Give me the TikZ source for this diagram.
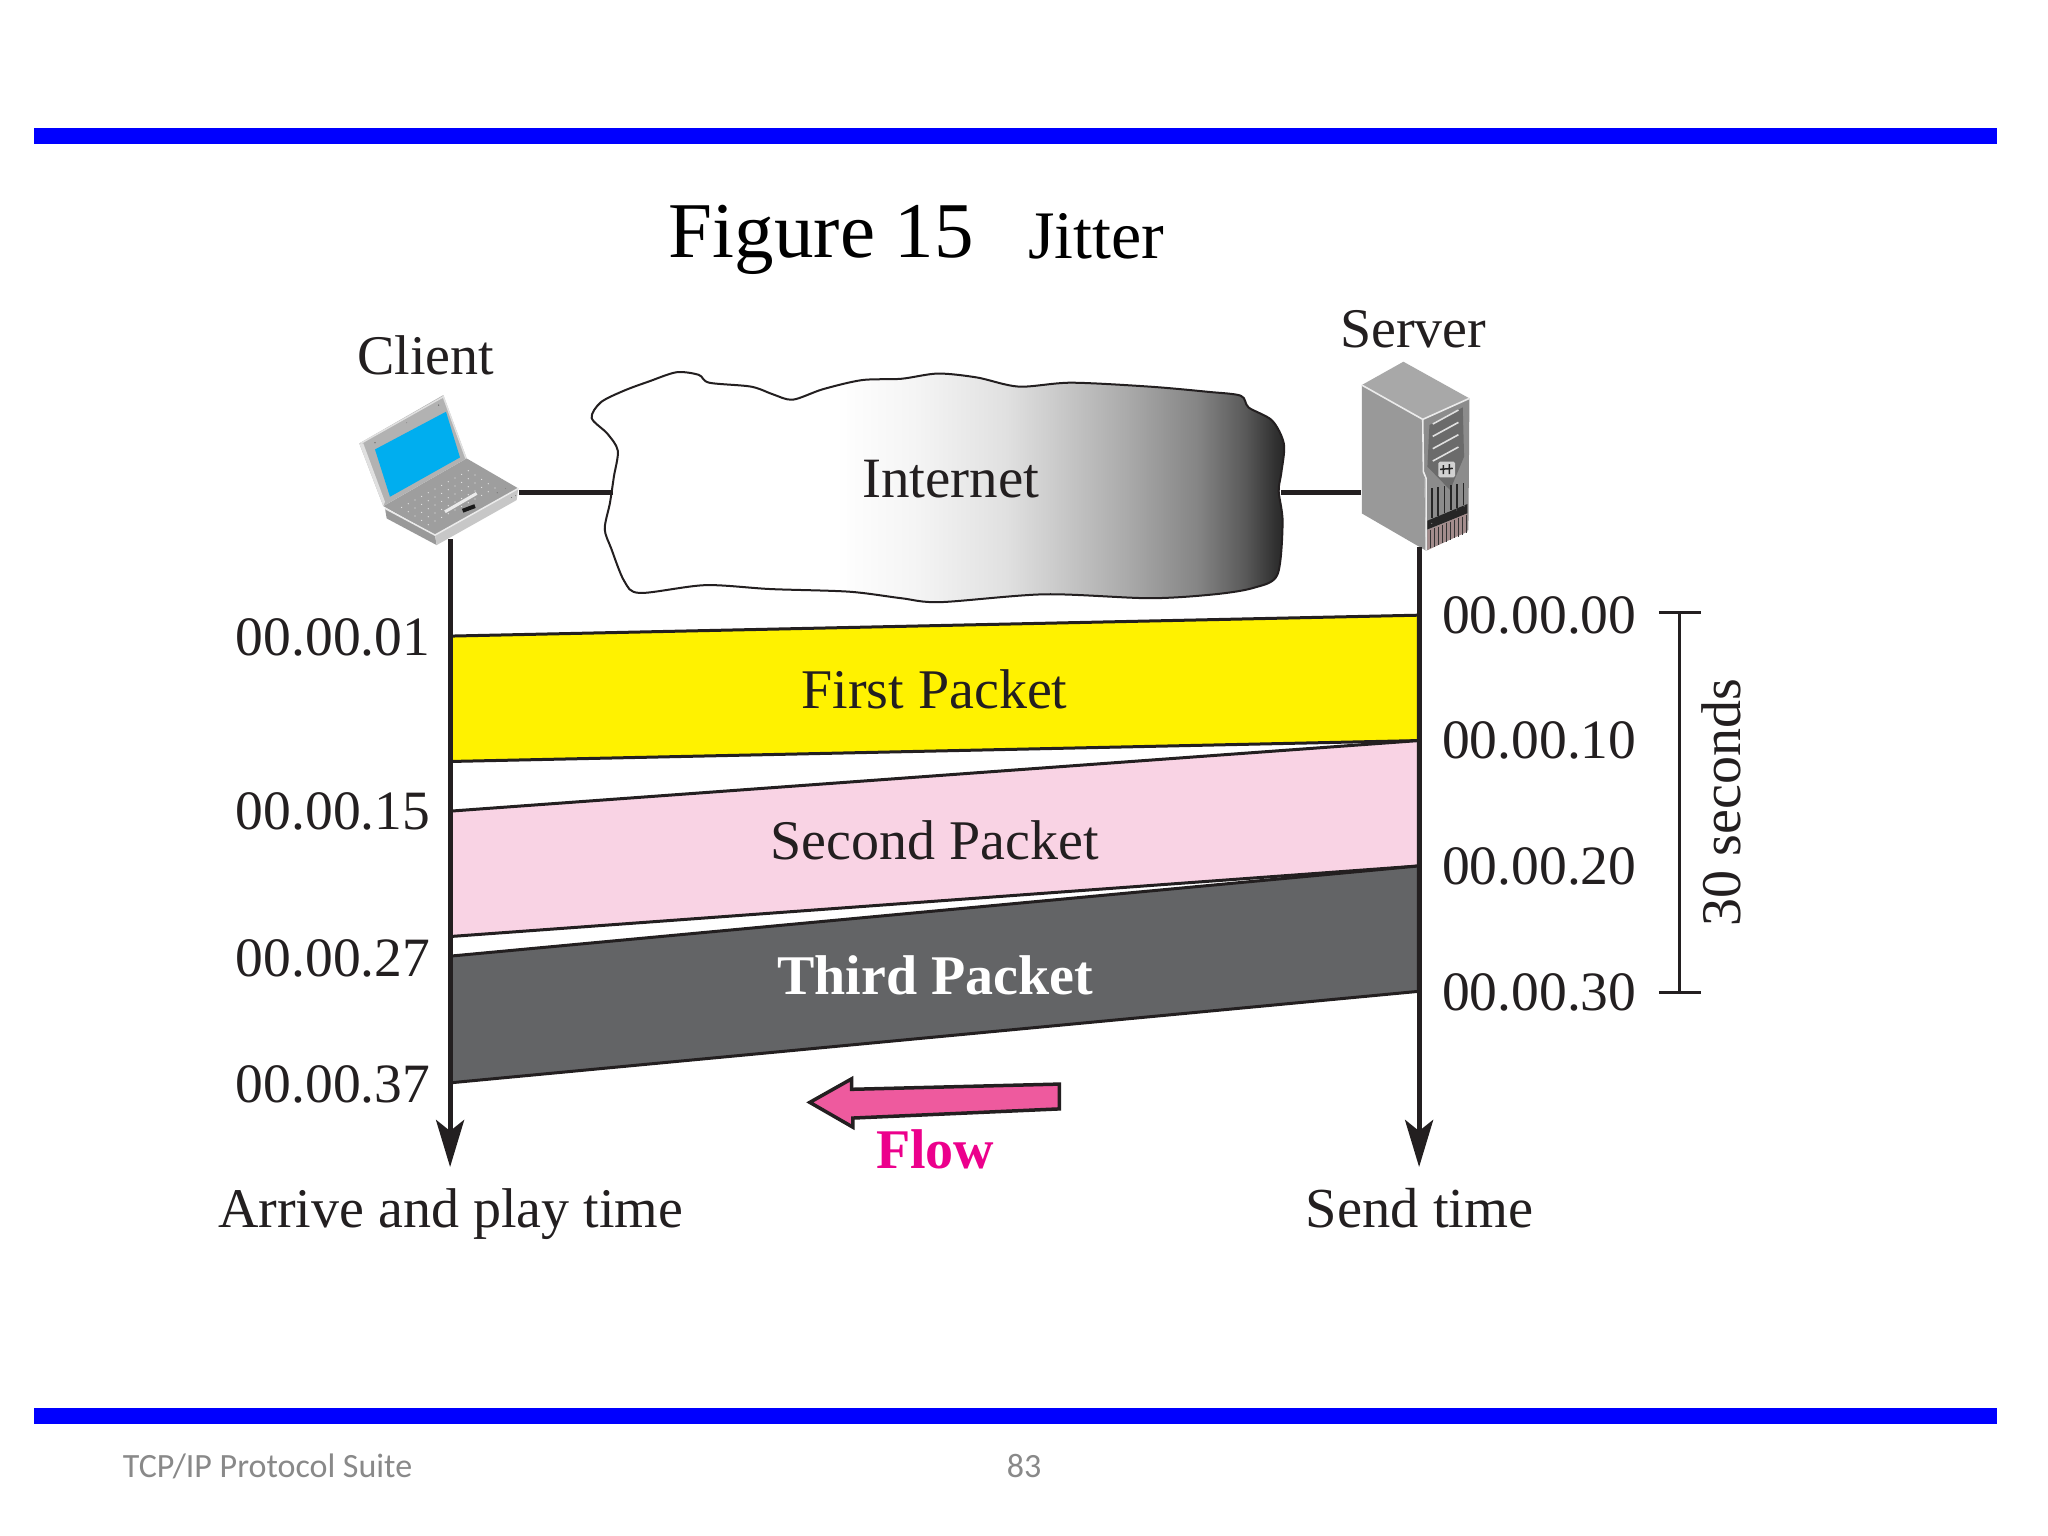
\documentclass[tikz,border=0pt]{standalone}
\usepackage{fontspec}
\setmainfont{Liberation Serif}
\newfontfamily\footfont{Carlito}
\usetikzlibrary{arrows.meta,calc}
\definecolor{ink}{HTML}{231F20}
\definecolor{barblue}{HTML}{0000FF}
\definecolor{screenblue}{HTML}{00AEEF}
\definecolor{firstcol}{HTML}{FFF200}
\definecolor{secondcol}{HTML}{F9D3E4}
\definecolor{thirdcol}{HTML}{636466}
\definecolor{flowcol}{HTML}{EE5A9E}
\definecolor{flowtext}{HTML}{EC008C}
\definecolor{footgray}{HTML}{898989}
\pgfdeclarehorizontalshading{cloudshade}{100bp}{color(0bp)=(white); color(42.6bp)=(white); color(48.3bp)=(black!4); color(54.9bp)=(black!12); color(58.3bp)=(black!20); color(63.5bp)=(black!33); color(68.7bp)=(black!48); color(72.1bp)=(black!65); color(74.3bp)=(black!81); color(75bp)=(black!85); color(100bp)=(black!85)}
\newcommand{\fs}[1]{\fontsize{#1}{#1}\selectfont}
\begin{document}
\begin{tikzpicture}[x=1.306pt,y=-1.306pt,
    txt/.style = {text=ink, font=\fs{56}, inner sep=0pt},
    stamp/.style = {text=ink, font=\fs{55.5}, inner sep=0pt},
    bar/.style = {fill=barblue, draw=none},
    packet/.style = {draw=ink, line width=3pt},
    link/.style = {draw=ink, line width=5pt},
    timeaxis/.style = {draw=ink, line width=5pt, -{Stealth[length=47pt,width=28pt,inset=11pt]}},
    foot/.style = {text=footgray, font=\footfont\fs{34}, inner sep=0pt}]
	\useasboundingbox (0,0) rectangle (1568,1176);
	\fill[white] (0,0) rectangle (1568,1176);
	\fill[bar] (26,98) rectangle (1529,110);
	\fill[bar] (26,1078) rectangle (1529,1090);

	% title
	\node[inner sep=0pt, anchor=base west, font=\fs{79}] (title) at (512,197) {Figure 15};
	\node[inner sep=0pt, anchor=base west, font=\fs{68}] (jitter) at (787,198) {Jitter};

	% cloud
	\draw[ink, line width=2pt, shading=cloudshade] plot[smooth cycle, tension=0.5] coordinates {
		(453,320) (460,308) (478,299) (497,292) (518,285) (535,287) (543,293) (575,296) (592,302) (607,306)
		(630,298) (660,291) (690,290) (718,286) (748,289) (780,296) (820,293) (880,296) (925,300) (950,303)
		(956,312) (974,322) (983,340) (981,362) (979,376) (982,400) (978,440) (960,450) (930,455) (880,458)
		(800,455) (720,461) (690,458) (650,453) (590,451) (540,448) (490,454) (478,445) (468,420) (463,405)
		(467,385) (470,365) (473,345) (465,332)};
	\node[txt, font=\fs{57}] (internet) at (728,367) {Internet};
	\coordinate (cloudL) at (469,377);
	\coordinate (cloudR) at (981,377);

	% laptop
	\coordinate (laptopR) at (397,377);
	\coordinate (laptopB) at (344.6,413);
	\begin{scope}[shift={(260.3,291)}, scale=0.2552]
		\fill[black!40] (135,385) -- (285,465) -- (290,495) -- (140,415) -- cycle;
		\fill[black!22] (285,465) -- (535,325) -- (530,360) -- (290,495) -- cycle;
		\fill[black!38] (130,378) -- (380,235) -- (535,325) -- (285,465) -- cycle;
		\draw[black!8, line width=1.5pt] (135,385) -- (285,465) -- (535,325);
		\fill[black!30] (58,190) -- (310,45) -- (380,235) -- (130,378) -- cycle;
		\draw[black!12, line width=1.5pt] (62,190) -- (310,50) -- (378,235);
		\fill[black!12] (58,190) -- (70,190) -- (135,365) -- (130,378) -- cycle;
		\fill[screenblue] (105,208) -- (318,95) -- (360,232) -- (150,350) -- cycle;
		\fill[black!70] (105,188) circle[radius=2.5pt];
		\fill[black!70] (296,75) circle[radius=2.5pt];
		\fill[black!50] (200,128) circle[radius=1.6pt];
		\foreach \i in {0,...,10}
			\foreach \j in {0,...,4}
				\fill[black!8] ({185+\i*20+\j*20},{382-\i*11+\j*13}) circle[radius=2.4pt];
		\draw[black!8, line width=3pt] (315,395) -- (410,340);
		\draw[black!90, line width=4pt] (368,392) -- (405,378);
		\fill[black!55] (472,338) circle[radius=2.5pt];
		\fill[black!55] (497,325) circle[radius=1.6pt];
		\fill[black!85] (515,352) circle[radius=1.5pt];
		\fill[black!85] (527,347) circle[radius=1.5pt];
	\end{scope}

	% server
	\coordinate (serverL) at (1042,377);
	\coordinate (serverB) at (1086.5,419);
	\begin{scope}[shift={(1026,268)}, scale=0.2552]
		\fill[black!40] (65,105) -- (248,208) -- (258,602) -- (65,490) -- cycle;
		\fill[black!34] (65,105) -- (190,35) -- (388,145) -- (248,208) -- cycle;
		\fill[black!45] (248,208) -- (388,145) -- (385,540) -- (258,602) -- cycle;
		\fill[black!58] (268,225) -- (368,172) -- (372,320) -- (330,420) -- (262,350) -- cycle;
		\foreach \k in {0,...,3}
			\draw[black!12, line width=1.6pt] (278,{222+\k*37}) -- (355,{180+\k*37});
		\fill[black!18, rounded corners=1.5pt] (295,335) rectangle (345,382);
		\draw[black!85, line width=1.5pt] (310,345) -- (310,372) (328,342) -- (328,372) (300,358) -- (338,355);
		\foreach \k in {0,...,5}
			\draw[black!85, line width=1.5pt] ({275+\k*19},{415-\k*3}) -- ({275+\k*19},{505-\k*8});
		\fill[black!85] (262,512) -- (382,462) -- (382,490) -- (262,538) -- cycle;
		\fill[black!35] (275,520) circle[radius=2pt];
		\fill[black!20] (372,468) circle[radius=2pt];
		\fill[black!20] (350,480) circle[radius=1.6pt];
		\fill[red!20!black!45] (262,540) -- (382,490) -- (382,545) -- (262,600) -- cycle;
		\foreach \k in {0,...,9}
			\draw[black!80, line width=1pt] ({270+\k*12},{540-\k*5}) -- ({270+\k*12},{595-\k*5});
		\draw[black!8, line width=1.6pt] (65,105) -- (248,208) -- (388,145);
		\draw[black!8, line width=1.6pt] (248,208) -- (250,365) -- (258,385) -- (258,602);
	\end{scope}

	% links
	\draw[link] (laptopR) -- (cloudL);
	\draw[link] (cloudR) -- (serverL);
	\coordinate (clientEnd) at (344.6,893.5);
	\coordinate (serverEnd) at (1086.5,893.5);

	% packets
	\coordinate (a1) at (345,487);
	\coordinate (a2) at (345,583);
	\coordinate (a3) at (345,621);
	\coordinate (a4) at (345,717);
	\coordinate (a5) at (345,732);
	\coordinate (a6) at (345,829);
	\coordinate (s1) at (1086,471);
	\coordinate (s2) at (1086,567);
	\coordinate (s3) at (1086,663);
	\coordinate (s4) at (1086,759);
	\draw[packet, fill=firstcol] (a1) -- (s1) -- (s2) -- (a2) -- cycle;
	\draw[packet, fill=secondcol] (a3) -- (s2) -- (s3) -- (a4) -- cycle;
	\draw[packet, fill=thirdcol] (a5) -- (s3) -- (s4) -- (a6) -- cycle;
	\node[txt] (first) at (715.5,528) {First Packet};
	\node[txt] (second) at (715.5,643) {Second Packet};
	\node[txt, text=white, font=\bfseries\fs{56}] (third) at (716,746.5) {Third Packet};

	% time axes
	\draw[timeaxis] (laptopB) -- (clientEnd);
	\draw[timeaxis] (serverB) -- (serverEnd);

	% times
	\foreach \nm/\y/\t in {c1/488/00.00.01, c2/621/00.00.15, c3/734/00.00.27, c4/830/00.00.37}
		\node[stamp, anchor=east] (\nm) at (329.5,\y) {\t};
	\foreach \nm/\y/\t in {r1/471/00.00.00, r2/567/00.00.10, r3/663/00.00.20, r4/760/00.00.30}
		\node[stamp, anchor=west] (\nm) at (1104,\y) {\t};

	% bracket
	\coordinate (br1) at (1286,469);
	\coordinate (br2) at (1286,760);
	\draw[ink, line width=2.5pt] (br1) -- (br2);
	\draw[ink, line width=2.5pt] (1270,469) -- (1302,469);
	\draw[ink, line width=2.5pt] (1270,760) -- (1302,760);
	\node[txt, rotate=90] (span) at (1318,614.5) {30 seconds};

	% flow
	\draw[draw=ink, fill=flowcol, line width=3.5pt] (620,844) -- (652,826) -- (652,834) -- (811,830) -- (811,849) -- (653,856) -- (653,863) -- cycle;
	\node[inner sep=0pt, text=flowtext, font=\bfseries\fs{56}, anchor=base] (flow) at (716,895) {Flow};

	% labels
	\node[txt, anchor=base] (client) at (326,287) {Client};
	\node[txt, anchor=base] (server) at (1082,266) {Server};
	\node[txt, anchor=base] (arrive) at (345,940) {Arrive and play time};
	\node[txt, anchor=base, font=\fs{56.5}] (send) at (1087,940) {Send time};

	% footer
	\node[foot, anchor=west] (suite) at (94,1122.5) {TCP/IP Protocol Suite};
	\node[foot] (page) at (784,1122.5) {83};
\end{tikzpicture}
\end{document}
